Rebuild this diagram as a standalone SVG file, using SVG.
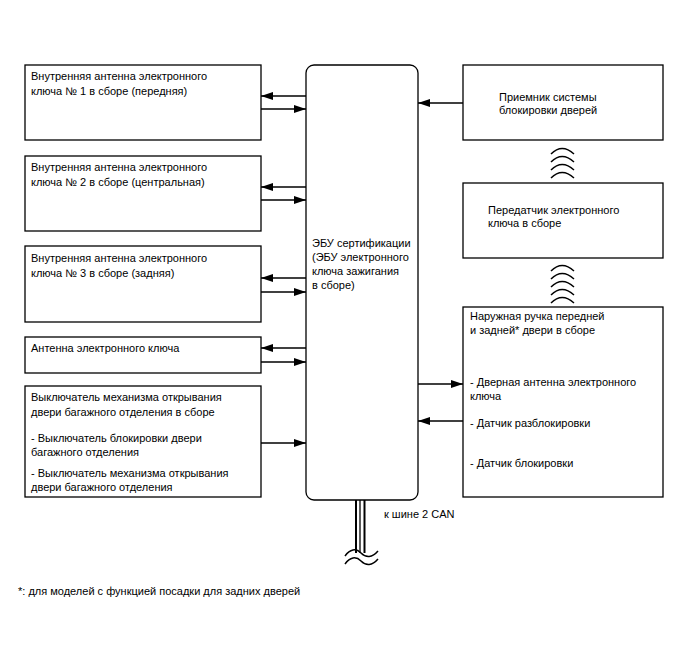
<svg xmlns="http://www.w3.org/2000/svg" width="688" height="658" viewBox="0 0 688 658">
<style>
.box{fill:#fff;stroke:#000;stroke-width:1.3}
.t{font-family:"Liberation Sans",Arial,sans-serif;font-size:11px;fill:#000}
.ln{stroke:#000;stroke-width:1.3;fill:none}
.w{stroke:#000;stroke-width:1.5;fill:none}
</style>
<defs>
<marker id="ah" markerUnits="userSpaceOnUse" markerWidth="12" markerHeight="8" refX="12" refY="4" orient="auto">
<path d="M0,0 L12,4 L0,8 z" fill="#000"/>
</marker>
</defs>
<rect width="688" height="658" fill="#fff"/>

<g id="ant1"><rect class="box" x="25" y="65" width="236" height="75"/>
<text class="t" x="31" y="80">Внутренняя антенна электронного</text>
<text class="t" x="31" y="95">ключа № 1 в сборе (передняя)</text></g>

<g id="ant2"><rect class="box" x="25" y="156" width="236" height="75"/>
<text class="t" x="31" y="171">Внутренняя антенна электронного</text>
<text class="t" x="31" y="186">ключа № 2 в сборе (центральная)</text></g>

<g id="ant3"><rect class="box" x="25" y="246" width="236" height="76"/>
<text class="t" x="31" y="262">Внутренняя антенна электронного</text>
<text class="t" x="31" y="277">ключа № 3 в сборе (задняя)</text></g>

<g id="ant4"><rect class="box" x="25" y="337" width="236" height="36"/>
<text class="t" x="31" y="352">Антенна электронного ключа</text></g>

<g id="tailgate"><rect class="box" x="25" y="386" width="236" height="111"/>
<text class="t" x="31" y="401">Выключатель механизма открывания</text>
<text class="t" x="31" y="416">двери багажного отделения в сборе</text>
<text class="t" x="31" y="442">- Выключатель блокировки двери</text>
<text class="t" x="31" y="456">багажного отделения</text>
<text class="t" x="31" y="477">- Выключатель механизма открывания</text>
<text class="t" x="31" y="491">двери багажного отделения</text></g>

<g id="ecu"><rect class="box" x="306" y="65" width="112" height="435" rx="8"/>
<text class="t" x="312" y="247">ЭБУ сертификации</text>
<text class="t" x="312" y="261">(ЭБУ электронного</text>
<text class="t" x="312" y="275">ключа зажигания</text>
<text class="t" x="312" y="289">в сборе)</text></g>

<g id="receiver"><rect class="box" x="463" y="65" width="200" height="75"/>
<text class="t" x="499" y="101">Приемник системы</text>
<text class="t" x="499" y="114">блокировки дверей</text></g>

<g id="transmitter"><rect class="box" x="463" y="183" width="200" height="75"/>
<text class="t" x="488" y="214">Передатчик электронного</text>
<text class="t" x="488" y="227">ключа в сборе</text></g>

<g id="handle"><rect class="box" x="463" y="307" width="200" height="190"/>
<text class="t" x="470" y="320">Наружная ручка передней</text>
<text class="t" x="470" y="334">и задней* двери в сборе</text>
<text class="t" x="470" y="386">- Дверная антенна электронного</text>
<text class="t" x="470" y="400">ключа</text>
<text class="t" x="470" y="427">- Датчик разблокировки</text>
<text class="t" x="470" y="467">- Датчик блокировки</text></g>

<g id="connectors">
<line class="ln" x1="306" y1="96" x2="261" y2="96" marker-end="url(#ah)"/>
<line class="ln" x1="261" y1="109" x2="306" y2="109" marker-end="url(#ah)"/>
<line class="ln" x1="306" y1="187" x2="261" y2="187" marker-end="url(#ah)"/>
<line class="ln" x1="261" y1="200" x2="306" y2="200" marker-end="url(#ah)"/>
<line class="ln" x1="306" y1="278" x2="261" y2="278" marker-end="url(#ah)"/>
<line class="ln" x1="261" y1="292" x2="306" y2="292" marker-end="url(#ah)"/>
<line class="ln" x1="306" y1="348" x2="261" y2="348" marker-end="url(#ah)"/>
<line class="ln" x1="261" y1="362" x2="306" y2="362" marker-end="url(#ah)"/>
<line class="ln" x1="261" y1="443" x2="306" y2="443" marker-end="url(#ah)"/>
<line class="ln" x1="463" y1="103" x2="418" y2="103" marker-end="url(#ah)"/>
<line class="ln" x1="418" y1="384" x2="463" y2="384" marker-end="url(#ah)"/>
<line class="ln" x1="463" y1="421" x2="418" y2="421" marker-end="url(#ah)"/>
</g>

<g id="radio1">
<path class="w" d="M551,154 Q562,143 574,154"/>
<path class="w" d="M551,162 Q562,151 574,162"/>
<path class="w" d="M551,170 Q562,159 574,170"/>
<path class="w" d="M551,178 Q562,167 574,178"/>
</g>
<g id="radio2">
<path class="w" d="M551,271 Q562,260 574,271"/>
<path class="w" d="M551,279 Q562,268 574,279"/>
<path class="w" d="M551,287 Q562,276 574,287"/>
<path class="w" d="M551,295 Q562,284 574,295"/>
<path class="w" d="M551,303 Q562,292 574,303"/>
</g>

<g id="can-bus">
<line x1="356" y1="500" x2="356" y2="553" stroke="#000" stroke-width="2"/>
<line x1="360" y1="500" x2="360" y2="553" stroke="#000" stroke-width="1.3"/>
<line x1="364.5" y1="500" x2="364.5" y2="553" stroke="#000" stroke-width="2"/>
<path class="w" d="M345,556 C350,549 356,548 361,553 S372,558 378,551"/>
<path class="w" d="M345,564 C350,557 356,556 361,561 S372,566 378,559"/>
<text class="t" x="384" y="518">к шине 2 CAN</text>
</g>

<text class="t" x="18" y="595">*: для моделей с функцией посадки для задних дверей</text>
</svg>
